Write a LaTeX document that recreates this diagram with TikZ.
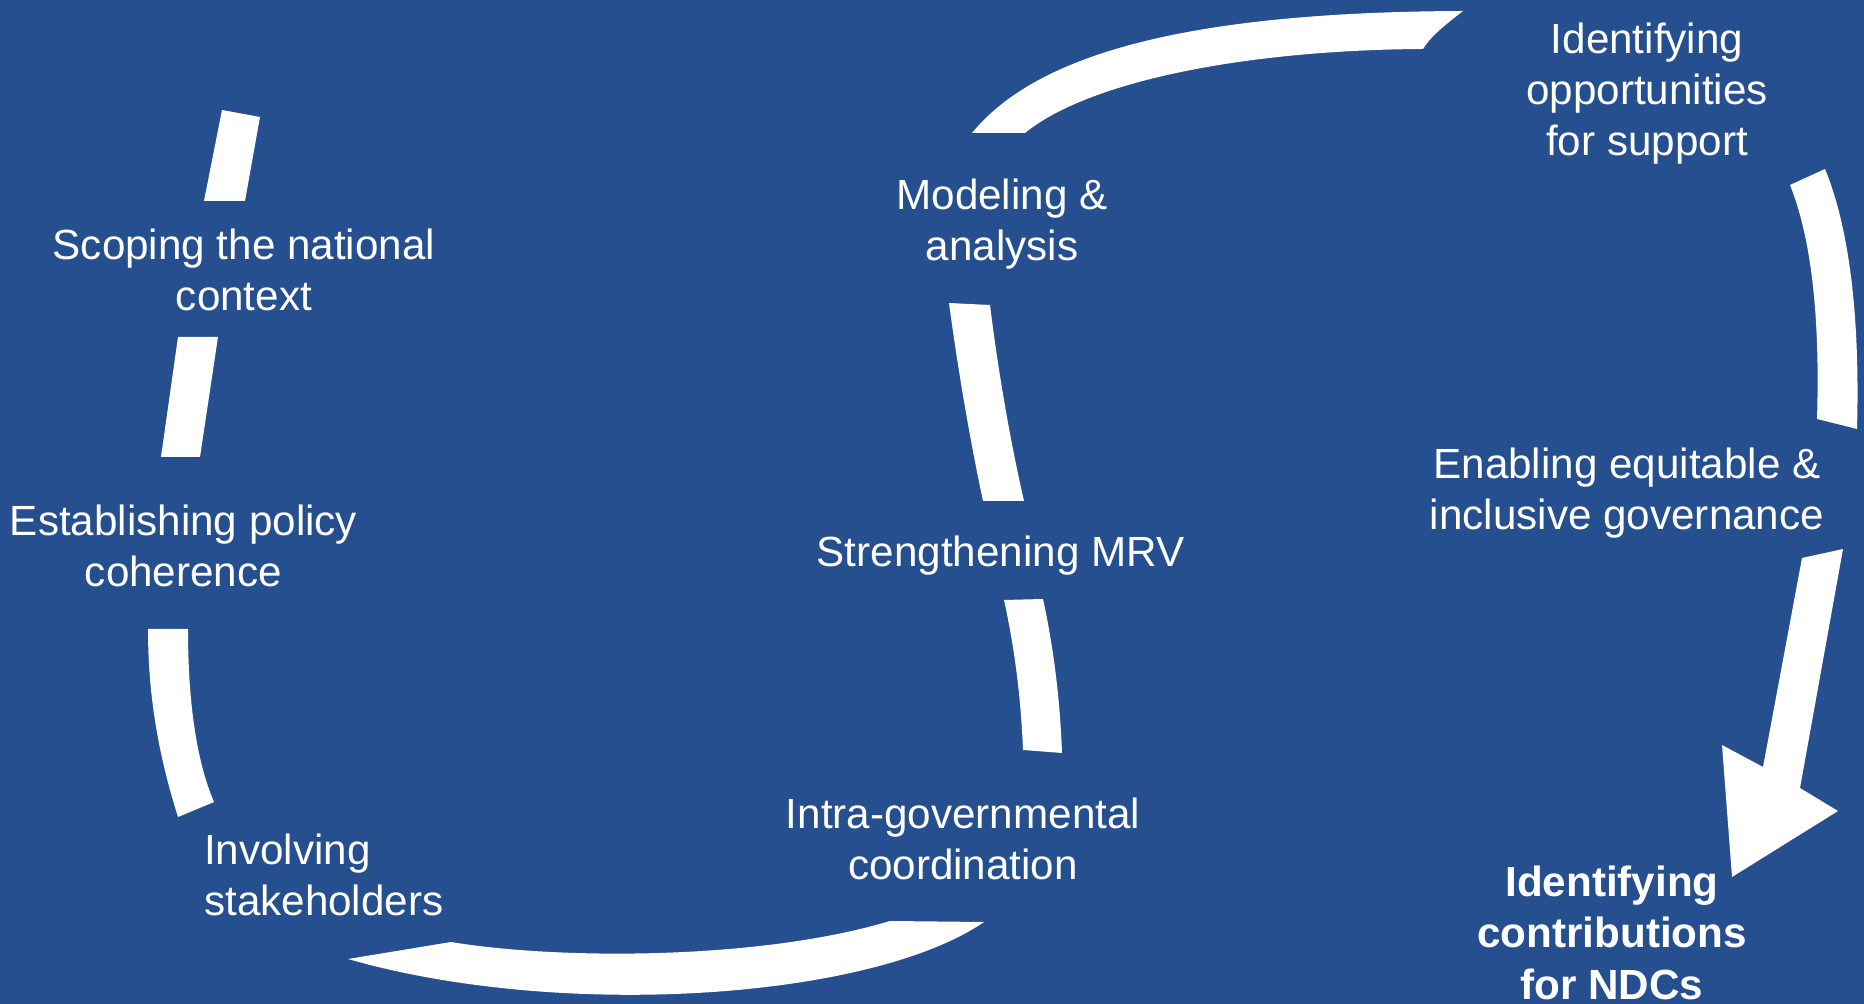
\documentclass[tikz,border=0pt]{standalone}
\usepackage{fontspec}
\setmainfont{Liberation Sans}
\definecolor{fondo}{RGB}{37,79,143}

\begin{document}
\begin{tikzpicture}[x=0.01cm, y=-0.01cm,
	etiqueta/.style={text=white, align=center, inner sep=0pt, anchor=north,
		font=\fontsize{12}{14.5}\selectfont},
	banda/.style={fill=white, draw=none}]

	% 0. Fondo y margenes
	\fill[fondo] (0,0) rectangle (1864,1004);
	\useasboundingbox (0,0) rectangle (1864,1004);

	% 1. Nodos del ciclo izquierdo
	\node[etiqueta] (scope) at (244, 228) {Scoping the national\\context};
	\node[etiqueta] (policy) at (183.5, 504) {Establishing policy\\coherence};
	\node[etiqueta, anchor=north west, align=left] (stake) at (203.5, 833) {Involving\\stakeholders};
	\node[etiqueta] (intra) at (963, 797) {Intra-governmental\\coordination};
	\node[etiqueta] (mrv) at (1000.5, 535) {Strengthening MRV};
	\node[etiqueta] (model) at (1002, 178) {Modeling \&\\analysis};

	% Nodos del ciclo derecho
	\node[etiqueta] (support) at (1647, 22) {Identifying\\opportunities\\for support};
	\node[etiqueta] (gov) at (1627, 447) {Enabling equitable \&\\inclusive governance};
	\node[etiqueta, font=\fontsize{12}{14.7}\selectfont\bfseries] (ndc) at (1612, 865) {Identifying\\contributions\\for NDCs};

	% 2. Bandas blancas (ciclo izquierdo)
	\fill[banda] (222,110) -- (260,117) -- (245,201) -- (204,201) -- cycle;
	\fill[banda] (178,337) -- (218,337) -- (200,457) -- (161,457) -- cycle;
	\fill[banda] (148,629) -- (188,629) .. controls (188,700) and (196,760) .. (214,802)
		-- (178,817) .. controls (160,760) and (148,700) .. (148,629) -- cycle;
	\fill[banda] (348,959) -- (451,942) .. controls (560,960) and (760,960) .. (890,921)
		-- (984,922) .. controls (870,1000) and (560,1020) .. (348,959) -- cycle;
	\fill[banda] (1004,600) -- (1043,599) .. controls (1054,650) and (1060,700) .. (1062,753)
		-- (1023,750) .. controls (1021,700) and (1015,650) .. (1004,600) -- cycle;
	\fill[banda] (949,303) -- (990,305) .. controls (998,370) and (1010,440) .. (1024,501)
		-- (983,501) .. controls (970,440) and (958,370) .. (949,303) -- cycle;

	% 3. Bandas blancas (ciclo derecho) y flecha final
	\fill[banda] (972,133) .. controls (1040,50) and (1200,12) .. (1463,11)
		.. controls (1445,25) and (1430,37) .. (1423,49)
		.. controls (1250,50) and (1090,80) .. (1025,133) -- cycle;
	\fill[banda] (1790,185) -- (1825,169) .. controls (1850,230) and (1860,320) .. (1857,429)
		-- (1817,419) .. controls (1820,320) and (1812,240) .. (1790,185) -- cycle;
	\fill[banda] (1802,558) -- (1843,549) -- (1800,788) -- (1838,811) -- (1732,877)
		-- (1722,745) -- (1763,767) -- cycle;

\end{tikzpicture}
\end{document}
